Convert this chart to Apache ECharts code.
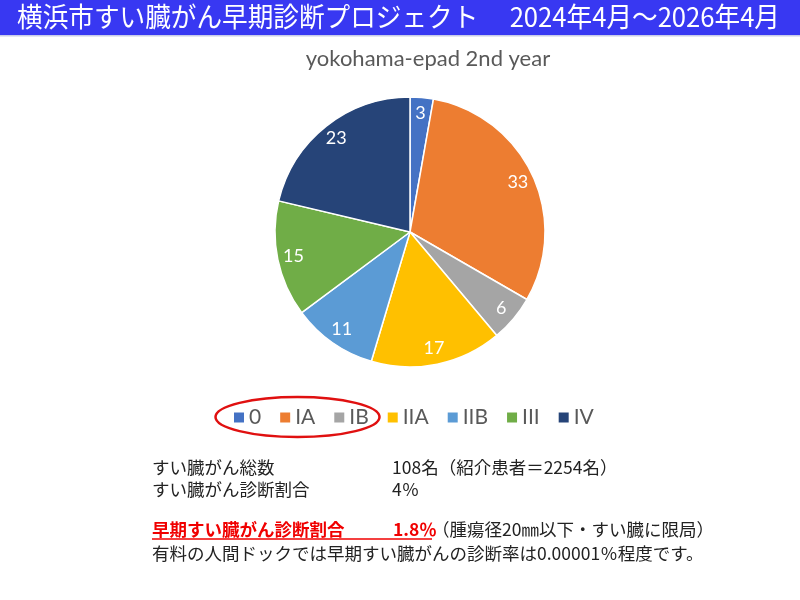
<!DOCTYPE html>
<html>
<head>
<meta charset="utf-8">
<script src="https://cdn.jsdelivr.net/npm/echarts@6/dist/echarts.min.js"></script>
<style>
  html, body { margin: 0; padding: 0; background: #fff; }
  #chart { width: 800px; height: 600px; }
</style>
</head>
<body>
<div id="chart"></div>
<script>
// stage names and counts (n = 108)
var stages = ['0', 'IA', 'IB', 'IIA', 'IIB', 'III', 'IV'];
var counts = [3, 33, 6, 17, 11, 15, 23];
var colors = ['#4472C4', '#ED7D31', '#A5A5A5', '#FFC000', '#5B9BD5', '#70AD47', '#264478'];

var headTitle = '横浜市すい臓がん早期診断プロジェクト　 2024年4月～2026年4月';
var subTitle = 'yokohama-epad 2nd year';

var jp = '"Noto Sans CJK JP", sans-serif';
var latin = 'Lato, "Noto Sans", sans-serif';

// fit the header into the bar width (the original font is condensed)
function textWidth(txt, font) {
  var c = document.createElement('canvas').getContext('2d');
  c.font = font;
  return c.measureText(txt).width;
}
var headSize = 27;
var headScale = 763 / textWidth(headTitle, headSize + 'px "Noto Sans CJK JP"');

var pieData = stages.map(function (s, i) {
  return { name: s, value: counts[i], itemStyle: { color: colors[i] } };
});

var chart = echarts.init(document.getElementById('chart'));

function txt(x, y, s, size, color, bold) {
  return {
    type: 'text', x: x, y: y, silent: true,
    style: {
      text: s, fill: color, fontSize: size, fontFamily: jp,
      fontWeight: bold ? 'bold' : 'normal', textVerticalAlign: 'middle'
    }
  };
}

chart.setOption({
  animation: false,
  title: {
    text: subTitle,
    left: 423, top: 43, textAlign: 'center',
    textStyle: { color: '#595959', fontSize: 22, fontWeight: 'normal', fontFamily: latin }
  },
  legend: {
    data: stages,
    left: 234, top: 407, padding: 0,
    icon: 'rect', itemWidth: 10, itemHeight: 10, itemGap: 19,
    itemStyle: { borderWidth: 0 },
    textStyle: { color: '#595959', fontSize: 21, fontFamily: latin }
  },
  series: [
    {
      type: 'pie',
      center: [410, 232], radius: 135,
      startAngle: 90, clockwise: true,
      label: { show: false }, labelLine: { show: false },
      itemStyle: { borderColor: '#fff', borderWidth: 1.5 },
      emphasis: { disabled: true },
      data: pieData
    },
    {
      // transparent ring only to place the value labels at ~0.86 r
      type: 'pie',
      center: [410, 232], radius: 232,
      startAngle: 90, clockwise: true, silent: true,
      itemStyle: { color: 'rgba(0,0,0,0)' },
      label: {
        show: true, position: 'inside', formatter: '{c}',
        color: '#fff', fontSize: 18, fontFamily: latin
      },
      labelLine: { show: false },
      emphasis: { disabled: true },
      data: stages.map(function (s, i) { return { name: s, value: counts[i] }; })
    }
  ],
  graphic: [
    { type: 'rect', shape: { x: 0, y: 0, width: 800, height: 35 }, style: { fill: '#3838F2' }, silent: true },
    { type: 'rect', shape: { x: 0, y: 35, width: 800, height: 1.5 }, style: { fill: '#C9CCE8' }, silent: true },
    {
      type: 'text', x: 17, y: 17, scaleX: headScale, silent: true,
      style: { text: headTitle, fill: '#fff', fontSize: headSize, fontFamily: jp, textVerticalAlign: 'middle' }
    },
    {
      type: 'ellipse', shape: { cx: 297.5, cy: 417, rx: 82, ry: 20 }, silent: true,
      style: { fill: 'none', stroke: '#E01010', lineWidth: 2.5 }
    },
    txt(152, 467, 'すい臓がん総数', 17.5, '#222'),
    txt(392, 467, '108名（紹介患者＝2254名）', 17.5, '#222'),
    txt(152, 489, 'すい臓がん診断割合', 17.5, '#222'),
    txt(392, 489, '4％', 17.5, '#222'),
    txt(152, 529, '早期すい臓がん診断割合', 17.5, '#F00000', true),
    txt(393, 529, '1.8％', 17.5, '#F00000', true),
    txt(432, 529, '（腫瘍径20㎜以下・すい臓に限局）', 17.5, '#222'),
    { type: 'line', shape: { x1: 152, y1: 539, x2: 432, y2: 539 }, style: { stroke: '#F00000', lineWidth: 1.5 }, silent: true },
    txt(152, 553, '有料の人間ドックでは早期すい臓がんの診断率は0.00001％程度です。', 17.5, '#222')
  ]
});
</script>
</body>
</html>
